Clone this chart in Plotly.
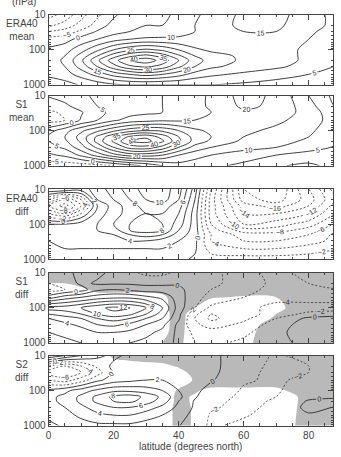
import plotly.graph_objects as go

# ---------------- data ----------------
lat = [0, 5, 10, 15, 20, 25, 30, 35, 40, 45, 50, 60, 70, 80, 90]
pres = [10, 20, 30, 50, 100, 150, 200, 300, 500, 1000]

era40_mean = [
    [-22, -18, -12, -6, -1, 3, 4, 4, 6, 9, 12, 16, 17, 12, 8],
    [-16, -13, -8, -3, 2, 4, 5, 5, 7, 10, 13, 16, 16, 12, 8],
    [-10, -8, -4, 0.5, 3, 5, 6, 7, 8, 10, 13, 15, 15, 11, 7],
    [-3, -2, 2, 5, 8, 10, 11, 11, 11, 11, 12, 13, 13, 10, 6],
    [1, 3, 8, 14, 20, 24, 26, 24, 20, 16, 14, 13, 12, 9, 5],
    [2, 5, 12, 20, 28, 34, 37, 33, 26, 20, 17, 14, 12, 9, 5],
    [2, 6, 14, 24, 33, 40, 43, 38, 30, 22, 18, 14, 12, 9, 5],
    [2, 5, 12, 20, 28, 34, 36, 33, 26, 20, 16, 13, 11, 8, 4],
    [1, 3, 7, 12, 17, 20, 22, 20, 17, 13, 11, 9, 7, 5, 3],
    [-3, -2, 0.5, 2, 4, 5, 5, 5, 5, 5, 5, 4, 3, 2, 1],
]

s1_mean = [
    [0.5, 2, 4, 6, 7, 8, 9, 10, 11, 13, 16, 22, 19, 10, 2],
    [-3, -1, 2, 5, 7, 8, 9, 10, 11, 13, 16, 21, 19, 12, 3],
    [-6, -4, -0.5, 4, 6, 8, 9, 10, 11, 13, 15, 19, 18, 13, 5],
    [-7, -5, 0.5, 5, 9, 12, 13, 14, 14, 15, 16, 17, 16, 13, 6],
    [3, 8, 14, 19, 24, 28, 30, 29, 25, 21, 19, 16, 14, 11, 6],
    [6, 10, 17, 26, 34, 41, 44, 38, 30, 23, 20, 15, 13, 10, 5],
    [5, 9, 16, 27, 36, 45, 47, 41, 31, 23, 19, 14, 12, 9, 5],
    [3, 6, 13, 21, 30, 37, 38, 33, 25, 18, 15, 12, 10, 7, 4],
    [-1, 1, 6, 12, 18, 22, 22, 20, 15, 12, 10, 7, 5, 3, 2],
    [-8, -8, -8, -7, -5, -2, 1, 5, 8, 7, 6, 4, 0.5, -1, 2],
]

era40_diff = [
    [4, 4, 3, 5, 7, 9, 11, 11, 9, 3, -6, -18, -20, -14, -8],
    [-4, -8, -4, 4, 6, 8, 10, 11, 8, 2, -7, -17, -19, -15, -9],
    [-8, -11, -6, 2, 5, 7, 9, 9, 7, 1.5, -7, -15, -17, -14, -8],
    [-4, -6, -2, 3, 5, 7, 8, 8, 6, 1, -7, -14, -14, -12, -7],
    [2, 2, 3, 4, 6, 8, 9, 8, 5, 1, -6, -12, -11, -9, -5],
    [3, 3, 3, 4, 5, 8, 9, 8, 4, 1, -5, -9, -9, -7, -4],
    [3, 3, 3, 3, 4, 6, 7, 6, 3, 1, -4, -7, -7, -6, -3],
    [2, 3, 3, 3, 3, 4, 4, 3, 2, 0.5, -4, -6, -6, -5, -3],
    [2, 2, 2, 2, 2, 2, 2, 2, 1, 0.3, -3, -4, -4, -3, -2],
    [1, 1, 1, 1, 1, 1, 1, 1, 0.5, -0.3, -1, -1, -1, -1, -1],
]

s1_diff = [
    [-1, -0.5, 0.5, 0.5, -0.5, -1.5, -2.5, -2.5, -1.5, -1.2, -1.5, -3, -5, -7, -8],
    [-2, -1.5, 0.5, -0.3, -0.3, -0.3, -0.5, -0.5, -0.3, -0.5, -1.5, -3, -4.5, -6, -7],
    [-3, -2, -1, 1.5, 2, 1.5, 1, 1, 0.5, -1, -2, -3.5, -4.5, -5.5, -6],
    [1, 3, 4, 5, 5.5, 5.5, 4.5, 3.5, 1, -1.5, -2.5, -4, -4.5, -5, -5],
    [9, 9, 10, 11.5, 12.5, 12, 10, 6, 1, -2, -4.5, -4.5, -3.5, -3, -3],
    [6, 7, 8, 10, 11.5, 10.5, 8, 5, 0.5, -3.5, -6, -5, -3, -1.5, -1],
    [4, 5, 6, 8, 9, 8, 6, 4, 0.3, -4, -6.5, -4.5, -2, 0.5, 1],
    [3, 3.5, 4.5, 6, 6.5, 5.5, 4, 2.5, -0.5, -3.5, -5, -3.5, -1, 1, 1.5],
    [2, 2.5, 3, 4, 4, 3.5, 2.5, 1.5, -0.5, -2.5, -3, -2.5, -0.5, 1, 1.5],
    [1.5, 1.5, 2, 2.5, 2.5, 2, 1.5, 1, -0.5, -2, -2.5, -1.5, -0.5, 0.5, 1],
]

s2_diff = [
    [6, 4, 2, 0.5, -0.5, 0.5, 1, 1, 1, 0.8, 0.5, -1.2, -2.2, -1.5, -1],
    [-4, -6, -4, -1.5, 0.5, 1, 1, 1, 1, 0.8, 0.5, -1.2, -2.5, -2, -1],
    [-7, -8, -6, -3, 0.3, 1, 1.2, 1.5, 1.5, 1, 0.5, -1.5, -2.5, -2, -1],
    [-4, -5, -3, -0.5, 1, 1.5, 2, 2, 2, 1.2, 0.2, -1.8, -2.3, -1.5, -0.5],
    [0.5, 1.5, 3, 4.5, 5.5, 5.5, 5, 4, 2, 0.5, -0.8, -2.2, -2.2, -1, -0.5],
    [1.5, 2.5, 4.5, 6.5, 8.5, 9, 7.5, 5.5, 2.5, 0.2, -1.2, -2.4, -2, -0.5, -0.2],
    [1.5, 2.5, 4.5, 6.5, 8, 8.5, 7, 5, 2, -0.2, -1.5, -2.5, -1.8, 0.2, 0.5],
    [1, 2, 3.5, 5, 6, 6, 5, 3.5, 1.5, -0.3, -1.8, -2.5, -1.5, 0.5, -0.2],
    [0.5, 1.2, 2.5, 3.5, 4, 4, 3, 2, 1, -0.8, -2.2, -2.2, -1.2, -0.2, -0.3],
    [-0.5, 0.3, 1, 1.5, 1.5, 1.5, 1, 0.5, 0.1, -1.2, -2.3, -1.5, -0.8, -0.3, -0.5],
]

# shading: > 0.5 is grey (not significant)
s1_mask = [
    [1, 1, 1, 1, 1, 1, 1, 1, 1, 1, 1, 1, 1, 1, 1],
    [0.5, 0.5, 0.8, 1, 1, 1, 1, 1, 1, 1, 1, 1, 1, 1, 1],
    [0, 0, 0.3, 0.8, 0.8, 0.8, 0.8, 0.8, 1, 1, 1, 1, 1, 1, 1],
    [0, 0, 0, 0, 0, 0, 0, 0.3, 1, 1, 0.6, 0.4, 0.5, 1, 1],
    [0, 0, 0, 0, 0, 0, 0, 0.2, 1, 0.5, -0.3, -0.5, 0.3, 1, 1],
    [0, 0, 0, 0, 0, 0, 0, 0.1, 1, -0.1, -0.5, -0.5, 0.5, 1, 1],
    [0, 0, 0, 0, 0, 0, 0, 0.1, 1, -0.2, -0.5, -0.5, 0.7, 1, 1],
    [0, 0, 0, 0, 0, 0, 0, 0.1, 1, -0.3, -0.5, 0, 1, 1, 1],
    [0, 0, 0, 0, 0, 0, 0, 0.2, 1, -0.4, -0.5, 0.2, 1, 1, 1],
    [0, 0, 0, 0, 0, 0, 0, 0.5, 0.9, -0.5, -0.5, 0.3, 1, 1, 1],
]

s2_mask = [
    [0, 0, 0, 0, 0.7, 1, 1, 1, 1, 1, 1, 1, 1, 1, 1],
    [0, 0, 0, 0, 0, 0, 0.2, 0.3, 0.6, 1, 1, 1, 1, 1, 1],
    [0, 0, 0, 0, 0, 0, 0, 0, 0.2, 0.8, 1, 1, 1, 1, 1],
    [0, 0, 0, 0, 0, 0, 0, 0, 0, 0.6, 1, 1, 1, 1, 1],
    [0, 0, 0, 0, 0, 0, 0, 0, 0.6, 0.6, 0.3, 0.3, 0.3, 1, 1],
    [0, 0, 0, 0, 0, 0, 0, 0, 0.7, 0.4, -0.5, -0.5, -0.5, 1, 1],
    [0, 0, 0, 0, 0, 0, 0, 0, 0.7, 0.4, -0.5, -0.5, -0.5, 1, 1],
    [0, 0, 0, 0, 0, 0, 0, 0, 0.8, 0.4, -0.5, -0.5, -0.4, 1, 1],
    [0, 0, 0, 0, 0, 0, 0, 0, 0.8, 0.4, -0.5, -0.5, -0.3, 1, 1],
    [0, 0, 0, 0, 0, 0, 0, 0, 0.8, 0.4, -0.5, -0.5, -0.2, 1, 1],
]

panel_labels = ["ERA40<br>mean", "S1<br>mean", "ERA40<br>diff", "S1<br>diff", "S2<br>diff"]
fields = [era40_mean, s1_mean, era40_diff, s1_diff, s2_diff]
masks = [None, None, None, s1_mask, s2_mask]
intervals = [5, 5, 2, 2, 2]
lat_ticks = [0, 20, 40, 60, 80]
lat_minor = [5, 10, 15, 25, 30, 35, 45, 50, 55, 65, 70, 75, 85]
p_ticks = [10, 100, 1000]
p_minor = [20, 30, 40, 50, 60, 70, 80, 90, 200, 300, 400, 500, 600, 700, 800, 900]
x_title = "latitude (degrees north)"
y_unit = "(hPa)"

# ---------------- layout geometry ----------------
W, H = 341, 457
X0, X1 = 46, 333
tops = [9, 92, 188, 274, 359]
PH = 72
AX = "#444444"
LINE = "#2a2a2a"
GREY = "#b9b9b9"
FONT = "Liberation Sans, Arial, Helvetica, sans-serif"
mono = [[0, LINE], [1, LINE]]

fig = go.Figure()
layout = dict(
    width=W, height=H, margin=dict(l=0, r=0, t=0, b=0),
    paper_bgcolor="white", plot_bgcolor="white",
    font=dict(family=FONT, size=10, color=AX), showlegend=False,
)
annotations = []

for i in range(5):
    n = i + 1
    xa, ya = f"x{n}", f"y{n}"
    z = fields[i]
    step = intervals[i]
    zmax = max(max(r) for r in z)
    zmin = min(min(r) for r in z)
    if masks[i] is not None:
        fig.add_trace(go.Contour(
            x=lat, y=pres, z=masks[i], xaxis=xa, yaxis=ya,
            contours=dict(type="constraint", operation="<", value=0.5),
            fillcolor=GREY, line=dict(width=0, color=GREY, smoothing=1.0),
            showscale=False, hoverinfo="skip"))
    fig.add_trace(go.Contour(
        x=lat, y=pres, z=z, xaxis=xa, yaxis=ya, autocontour=False,
        colorscale=mono, showscale=False, hoverinfo="skip",
        contours=dict(coloring="lines", start=0, end=zmax, size=step,
                      showlabels=True, labelfont=dict(size=7, family=FONT)),
        line=dict(width=0.9, smoothing=0.9)))
    if zmin < 0:
        neg_start = -step * int(-zmin // step)
        fig.add_trace(go.Contour(
            x=lat, y=pres, z=z, xaxis=xa, yaxis=ya, autocontour=False,
            colorscale=mono, showscale=False, hoverinfo="skip",
            contours=dict(coloring="lines", start=neg_start, end=-step, size=step,
                          showlabels=True, labelfont=dict(size=7, family=FONT)),
            line=dict(width=0.8, dash="2px,2px", smoothing=0.9)))

    t = tops[i]
    y_dom = [1 - (t + PH) / H, 1 - t / H]
    layout["xaxis" if n == 1 else f"xaxis{n}"] = dict(
        domain=[X0 / W, X1 / W], range=[0, 87.5], anchor=ya,
        tickvals=lat_ticks, showticklabels=(n == 5), ticks="inside", ticklen=5,
        tickcolor=AX, tickwidth=1,
        minor=dict(tickvals=lat_minor, ticks="inside", ticklen=2.5, tickcolor=AX),
        showline=True, linecolor=AX, linewidth=1, mirror="allticks",
        showgrid=False, zeroline=False, tickfont=dict(size=10, color=AX),
    )
    layout["yaxis" if n == 1 else f"yaxis{n}"] = dict(
        domain=y_dom, type="log", range=[3, 1], anchor=xa,
        tickvals=p_ticks, ticktext=[str(v) for v in p_ticks],
        ticks="inside", ticklen=5, tickcolor=AX, tickwidth=1,
        minor=dict(tickvals=p_minor, ticks="inside", ticklen=2.5, tickcolor=AX),
        showline=True, linecolor=AX, linewidth=1, mirror="allticks",
        showgrid=False, zeroline=False, tickfont=dict(size=10, color=AX),
    )
    annotations.append(dict(
        text=panel_labels[i], xref="paper", yref="paper",
        x=19 / W, y=1 - (t + 16) / H, xanchor="center", yanchor="middle",
        showarrow=False, align="center", font=dict(size=10, color=AX, family=FONT)))

annotations.append(dict(
    text=x_title, xref="paper", yref="paper", x=(X0 + X1) / 2 / W, y=1 - 452 / H,
    xanchor="center", yanchor="middle", showarrow=False,
    font=dict(size=10, color=AX, family=FONT)))
annotations.append(dict(
    text=y_unit, xref="paper", yref="paper", x=21 / W, y=1 - 3 / H,
    xanchor="center", yanchor="bottom", showarrow=False,
    font=dict(size=10, color=AX, family=FONT)))

layout["annotations"] = annotations
fig.update_layout(**layout)
fig.write_html("out.html")
